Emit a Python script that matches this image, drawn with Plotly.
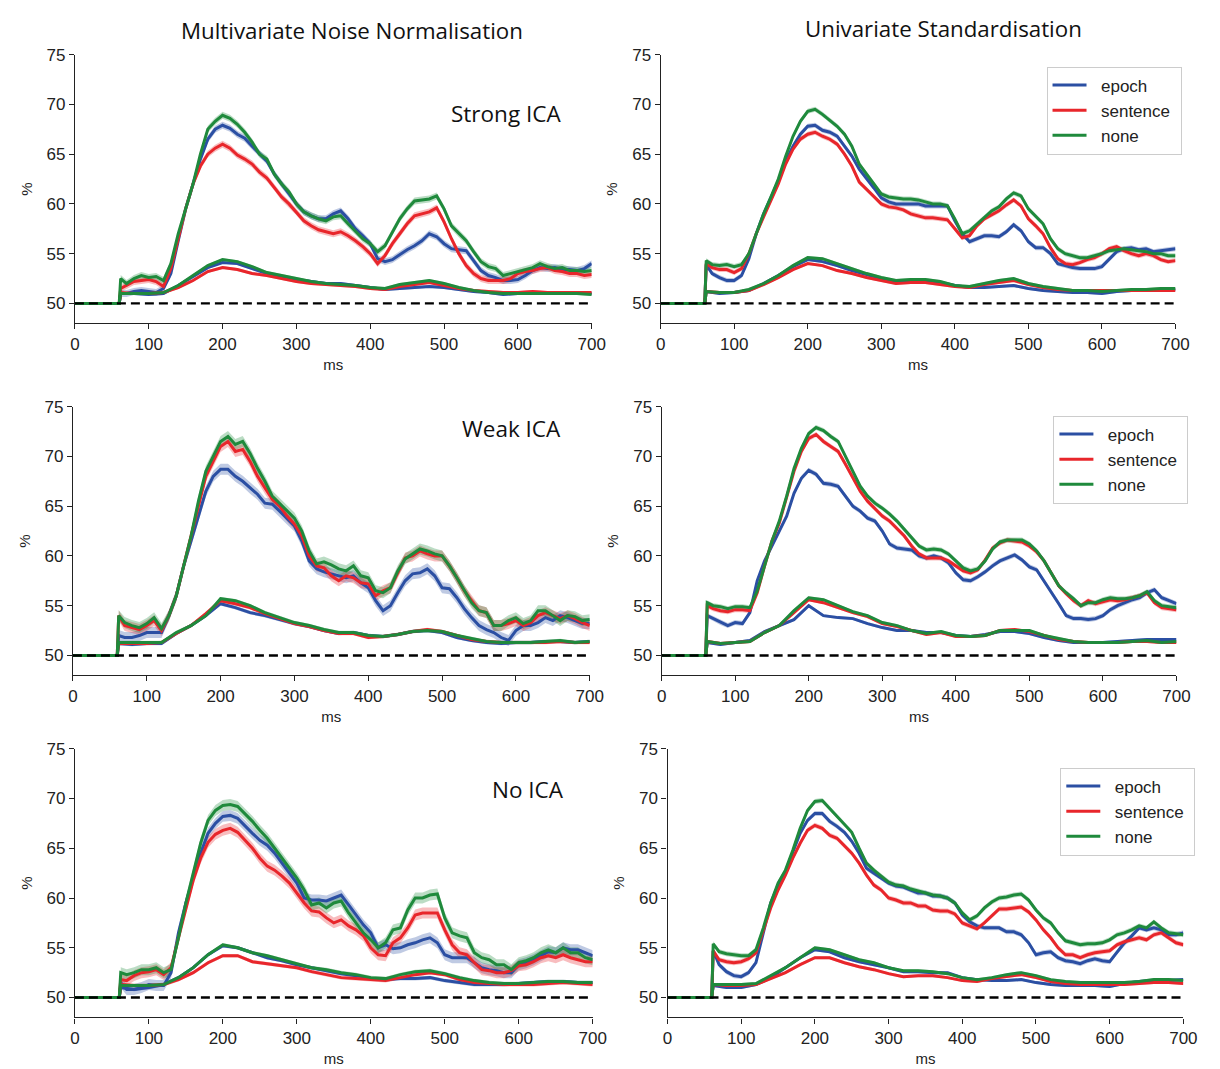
import numpy as np
import plotly.graph_objects as go

# ---------------------------------------------------------------------------
# Decoding accuracy (%) over time for three baseline conditions.
# Pre-stimulus samples sit at chance; the curves start at stimulus onset.
# ---------------------------------------------------------------------------
CHANCE = 50.0
PRESTIM_MS = [0, 60]
T_FINE = [62] + list(range(70, 701, 10))      # upper (peak) curves
T_COARSE = [62] + list(range(80, 701, 20))    # lower (smooth) curves
X_TICKS = [0, 100, 200, 300, 400, 500, 600, 700]
Y_TICKS = [50, 55, 60, 65, 70, 75]

CONDITIONS = ["epoch", "sentence", "none"]
COLUMN_TITLES = ["Multivariate Noise Normalisation", "Univariate Standardisation"]
ROW_LABELS = ["Strong ICA", "Weak ICA", "No ICA"]

# ---- Multivariate noise normalisation, strong ICA -------------------------
MNN_STRONG_EPOCH_HI = [51.0, 51.0, 51.2, 51.3,
    51.2, 51.1, 51.5, 53.0, 56.3, 59.5, 62.0, 64.5, 66.5, 67.5,
    67.9, 67.6, 67.0, 66.6, 65.8, 65.0, 64.3, 63.0, 62.0, 61.0,
    60.0, 59.2, 58.8, 58.5, 58.5, 59.0, 59.3, 58.5, 57.5, 56.8,
    56.0, 54.5, 54.2, 54.4, 54.9, 55.4, 55.8, 56.3, 57.0, 56.7,
    56.0, 55.5, 55.4, 55.3, 54.3, 53.3, 52.8, 52.6, 52.3, 52.3,
    52.4, 52.8, 53.3, 53.6, 53.5, 53.6, 53.4, 53.4, 53.3, 53.5,
    54.0]
MNN_STRONG_SENTENCE_HI = [51.5, 51.8, 52.2, 52.3,
    52.4, 52.2, 51.7, 53.5, 56.5, 59.5, 62.0, 63.8, 65.0, 65.6,
    66.0, 65.6, 64.9, 64.5, 64.0, 63.2, 62.6, 61.7, 60.7, 60.0,
    59.2, 58.3, 57.8, 57.4, 57.2, 57.0, 57.2, 56.8, 56.3, 55.7,
    55.0, 54.0, 54.8, 56.0, 57.0, 58.0, 58.8, 59.0, 59.2, 59.6,
    58.2, 56.5, 55.0, 53.8, 53.0, 52.5, 52.3, 52.3, 52.3, 52.5,
    53.0, 53.2, 53.3, 53.5, 53.6, 53.3, 53.2, 53.0, 53.0, 52.8,
    52.9]
MNN_STRONG_NONE_HI = [52.5, 52.0, 52.5, 52.8,
    52.6, 52.7, 52.3, 54.0, 57.0, 59.5, 62.0, 65.0, 67.5, 68.3,
    68.9, 68.6, 68.0, 67.2, 66.2, 65.0, 64.5, 63.0, 62.0, 61.2,
    60.0, 59.2, 58.8, 58.5, 58.3, 58.7, 58.8, 58.0, 57.2, 56.5,
    56.0, 55.2, 55.8, 57.2, 58.5, 59.5, 60.3, 60.4, 60.5, 60.8,
    59.5, 57.8, 57.0, 56.3, 55.2, 54.2, 53.7, 53.5, 52.8, 53.0,
    53.2, 53.4, 53.6, 54.0, 53.7, 53.5, 53.6, 53.3, 53.3, 53.2,
    53.3]
MNN_STRONG_EPOCH_LO = [51.0, 51.0,
    50.9, 51.0, 51.8, 52.7, 53.6, 54.1, 54.0, 53.5, 53.0, 52.7,
    52.4, 52.2, 52.0, 52.0, 51.8, 51.6, 51.4, 51.5, 51.6, 51.7,
    51.6, 51.4, 51.2, 51.1, 50.9, 51.0, 51.0, 51.0, 51.0, 51.0,
    51.0]
MNN_STRONG_SENTENCE_LO = [51.1, 51.0,
    51.0, 51.1, 51.6, 52.3, 53.2, 53.6, 53.4, 53.0, 52.8, 52.5,
    52.2, 52.0, 51.9, 51.8, 51.7, 51.5, 51.4, 51.7, 51.9, 52.1,
    51.8, 51.5, 51.3, 51.2, 51.1, 51.1, 51.2, 51.1, 51.1, 51.1,
    51.1]
MNN_STRONG_NONE_LO = [51.0, 51.0,
    51.0, 51.1, 51.8, 52.8, 53.8, 54.4, 54.2, 53.7, 53.1, 52.8,
    52.5, 52.2, 52.0, 51.9, 51.8, 51.6, 51.5, 51.9, 52.1, 52.3,
    52.0, 51.6, 51.3, 51.1, 51.0, 51.0, 51.0, 51.0, 51.0, 51.0,
    50.9]

# ---- Univariate standardisation, strong ICA -------------------------------
US_STRONG_EPOCH_HI = [53.9, 53.0, 52.6, 52.3,
    52.3, 52.8, 54.5, 57.0, 59.0, 60.7, 62.3, 64.3, 65.8, 67.0,
    67.8, 67.9, 67.4, 67.2, 66.8, 65.8, 64.8, 63.5, 62.6, 61.6,
    60.6, 60.2, 60.0, 60.0, 60.0, 60.0, 59.8, 59.8, 59.8, 59.8,
    58.3, 57.0, 56.2, 56.5, 56.8, 56.8, 56.7, 57.2, 57.9, 57.3,
    56.2, 55.6, 55.6, 55.0, 54.0, 53.8, 53.6, 53.5, 53.5, 53.5,
    53.7, 54.5, 55.2, 55.5, 55.6, 55.4, 55.5, 55.2, 55.3, 55.4,
    55.5]
US_STRONG_SENTENCE_HI = [54.0, 53.6, 53.4, 53.4,
    53.1, 53.5, 55.0, 57.0, 58.7, 60.3, 62.0, 64.0, 65.5, 66.5,
    67.0, 67.2, 66.8, 66.5, 66.0, 65.0, 63.8, 62.2, 61.5, 60.8,
    60.0, 59.7, 59.6, 59.4, 59.0, 58.8, 58.6, 58.6, 58.5, 58.4,
    57.5, 56.6, 56.8, 57.8, 58.5, 58.9, 59.3, 59.9, 60.4, 59.8,
    58.5, 57.8, 57.0, 55.6, 54.5, 54.0, 53.9, 54.1, 54.4, 54.6,
    55.0, 55.5, 55.7, 55.3, 55.0, 54.8, 55.0, 54.8, 54.4, 54.2,
    54.3]
US_STRONG_NONE_HI = [54.3, 53.9, 53.8, 53.9,
    53.7, 53.9, 55.0, 57.0, 59.0, 60.7, 62.5, 64.8, 66.8, 68.3,
    69.3, 69.5, 69.0, 68.4, 67.8, 67.0, 65.8, 64.0, 63.0, 62.0,
    61.0, 60.7, 60.6, 60.5, 60.5, 60.4, 60.2, 60.0, 60.0, 59.8,
    58.5, 57.0, 57.3, 58.0, 58.7, 59.3, 59.7, 60.5, 61.1, 60.8,
    59.5, 58.8, 58.0, 56.5, 55.5, 55.0, 54.8, 54.6, 54.6, 54.8,
    55.0, 55.3, 55.4, 55.5, 55.4, 55.3, 55.2, 55.0, 55.0, 54.8,
    54.8]
US_STRONG_EPOCH_LO = [51.2, 51.0,
    51.1, 51.3, 52.0, 52.8, 53.7, 54.4, 54.2, 53.8, 53.3, 52.9,
    52.5, 52.2, 52.3, 52.3, 52.1, 51.8, 51.6, 51.6, 51.7, 51.8,
    51.5, 51.3, 51.2, 51.1, 51.1, 51.0, 51.2, 51.3, 51.3, 51.4,
    51.4]
US_STRONG_SENTENCE_LO = [51.2, 51.1,
    51.1, 51.3, 51.9, 52.6, 53.4, 54.0, 53.8, 53.3, 53.0, 52.6,
    52.3, 52.0, 52.1, 52.1, 51.9, 51.7, 51.6, 51.9, 52.1, 52.3,
    51.9, 51.6, 51.4, 51.3, 51.3, 51.3, 51.3, 51.3, 51.3, 51.3,
    51.3]
US_STRONG_NONE_LO = [51.2, 51.1,
    51.1, 51.4, 52.0, 52.8, 53.8, 54.6, 54.5, 54.0, 53.5, 53.0,
    52.6, 52.3, 52.4, 52.4, 52.2, 51.8, 51.7, 52.0, 52.3, 52.5,
    52.0, 51.7, 51.5, 51.3, 51.3, 51.2, 51.3, 51.4, 51.4, 51.5,
    51.5]

# ---- Multivariate noise normalisation, weak ICA ---------------------------
MNN_WEAK_EPOCH_HI = [52.0, 51.8, 51.8, 52.0,
    52.3, 52.3, 52.3, 54.0, 56.0, 59.0, 61.5, 64.0, 66.5, 68.0,
    68.7, 68.7, 68.0, 67.5, 66.8, 66.2, 65.3, 65.2, 64.5, 63.7,
    63.0, 61.5, 59.5, 58.7, 58.4, 58.2, 58.0, 57.8, 58.0, 57.3,
    56.8, 55.5, 54.5, 55.0, 56.3, 57.5, 58.2, 58.3, 58.7, 58.0,
    56.8, 56.7, 55.8, 54.7, 53.8, 53.0, 52.6, 52.3, 51.8, 51.5,
    52.5, 53.0, 53.0, 53.3, 53.8, 53.5, 54.0, 53.8, 53.5, 53.2,
    53.2]
MNN_WEAK_SENTENCE_HI = [54.0, 53.0, 52.8, 52.6,
    53.0, 53.5, 52.5, 54.0, 56.0, 59.0, 62.0, 65.3, 68.0, 69.5,
    71.0, 71.5, 70.5, 70.7, 69.5, 68.0, 66.8, 65.7, 65.0, 64.0,
    63.2, 62.0, 60.0, 59.0, 58.8, 58.0, 57.5, 58.0, 57.8, 57.3,
    57.2, 56.0, 56.5, 56.8, 58.3, 59.8, 60.0, 60.5, 60.2, 60.0,
    60.0, 59.0, 57.8, 56.5, 55.5, 54.5, 54.3, 53.0, 53.0, 53.2,
    53.5, 53.0, 53.3, 54.0, 54.3, 54.0, 53.7, 54.0, 53.7, 53.3,
    53.0]
MNN_WEAK_NONE_HI = [54.0, 53.3, 53.0, 52.8,
    53.2, 53.8, 52.7, 54.0, 56.0, 59.0, 62.0, 65.5, 68.5, 70.0,
    71.5, 72.0, 71.2, 71.5, 70.3, 68.8, 67.5, 66.0, 65.3, 64.5,
    63.8, 62.5, 60.5, 59.2, 59.4, 59.1, 58.7, 58.5, 59.0, 58.0,
    57.8, 56.5, 56.3, 56.8, 58.5, 59.7, 60.2, 60.7, 60.5, 60.2,
    60.0, 59.0, 57.8, 56.5, 55.3, 54.5, 54.3, 53.0, 53.0, 53.5,
    53.8, 53.2, 53.5, 54.5, 54.5, 54.0, 53.5, 54.0, 53.9, 53.5,
    53.6]
MNN_WEAK_EPOCH_LO = [51.2, 51.1,
    51.2, 51.2, 52.2, 53.0, 54.0, 55.2, 54.8, 54.3, 54.0, 53.6,
    53.2, 52.9, 52.5, 52.2, 52.3, 52.0, 51.9, 52.1, 52.4, 52.5,
    52.3, 51.8, 51.5, 51.3, 51.2, 51.3, 51.3, 51.4, 51.4, 51.3,
    51.4]
MNN_WEAK_SENTENCE_LO = [51.2, 51.2,
    51.2, 51.3, 52.2, 53.0, 54.2, 55.5, 55.2, 54.8, 54.2, 53.7,
    53.2, 52.9, 52.5, 52.2, 52.2, 51.8, 51.9, 52.1, 52.4, 52.6,
    52.4, 52.0, 51.6, 51.4, 51.3, 51.3, 51.3, 51.3, 51.4, 51.3,
    51.3]
MNN_WEAK_NONE_LO = [51.3, 51.3,
    51.3, 51.3, 52.3, 53.0, 54.0, 55.7, 55.5, 55.0, 54.3, 53.8,
    53.3, 53.0, 52.6, 52.3, 52.3, 52.0, 51.9, 52.1, 52.4, 52.5,
    52.4, 52.0, 51.7, 51.4, 51.3, 51.3, 51.3, 51.4, 51.5, 51.3,
    51.4]

# ---- Univariate standardisation, weak ICA ---------------------------------
US_WEAK_EPOCH_HI = [54.0, 53.7, 53.3, 53.0,
    53.3, 53.2, 54.3, 57.5, 59.5, 61.0, 62.5, 64.0, 66.3, 67.8,
    68.6, 68.2, 67.3, 67.2, 67.0, 66.0, 65.0, 64.5, 63.8, 63.5,
    62.5, 61.2, 60.8, 60.7, 60.6, 60.0, 59.8, 60.0, 59.8, 59.3,
    58.3, 57.6, 57.5, 57.9, 58.4, 59.0, 59.5, 59.8, 60.1, 59.6,
    58.9, 58.6, 57.5, 56.4, 55.2, 54.0, 53.7, 53.7, 53.6, 53.7,
    54.0, 54.6, 55.0, 55.3, 55.6, 55.8, 56.3, 56.6, 55.8, 55.5,
    55.2]
US_WEAK_SENTENCE_HI = [55.0, 54.7, 54.5, 54.4,
    54.6, 54.6, 54.5, 56.3, 59.0, 61.5, 63.3, 65.8, 68.5, 70.5,
    71.8, 72.2, 71.5, 71.0, 70.5, 69.2, 67.8, 66.5, 65.5, 64.8,
    64.0, 63.5, 62.8, 62.0, 61.0, 60.2, 59.8, 59.8, 59.8, 59.5,
    59.0, 58.5, 58.3, 58.6, 59.6, 60.8, 61.3, 61.6, 61.5, 61.4,
    61.0, 60.4, 59.5, 58.3, 57.0, 56.2, 55.5, 55.0, 55.5, 55.2,
    55.4, 55.6, 55.5, 55.6, 55.8, 56.0, 56.3, 55.3, 54.8, 54.7,
    54.6]
US_WEAK_NONE_HI = [55.3, 55.0, 54.9, 54.7,
    54.9, 54.9, 54.8, 56.5, 59.0, 61.5, 63.5, 66.0, 68.8, 70.8,
    72.3, 72.9, 72.6, 72.0, 71.5, 70.0, 68.5, 67.0, 66.0, 65.3,
    64.8, 64.2, 63.5, 62.7, 61.8, 61.0, 60.6, 60.7, 60.6, 60.2,
    59.5, 58.8, 58.5, 58.7, 59.5, 60.7, 61.4, 61.6, 61.6, 61.6,
    61.2, 60.5, 59.5, 58.3, 57.0, 56.3, 55.7, 55.0, 55.3, 55.3,
    55.6, 55.8, 55.7, 55.7, 55.8, 56.0, 56.4, 55.5, 55.0, 54.9,
    54.8]
US_WEAK_EPOCH_LO = [51.3, 51.1,
    51.3, 51.5, 52.4, 53.0, 53.6, 55.0, 54.0, 53.8, 53.7, 53.2,
    52.8, 52.5, 52.5, 52.3, 52.3, 52.0, 51.9, 52.1, 52.4, 52.4,
    52.2, 51.8, 51.5, 51.3, 51.3, 51.3, 51.4, 51.5, 51.6, 51.6,
    51.6]
US_WEAK_SENTENCE_LO = [51.4, 51.2,
    51.3, 51.4, 52.3, 53.0, 54.3, 55.6, 55.3, 54.8, 54.3, 53.9,
    53.2, 52.9, 52.5, 52.1, 52.3, 51.9, 51.9, 52.0, 52.5, 52.6,
    52.4, 52.0, 51.6, 51.4, 51.3, 51.3, 51.3, 51.4, 51.4, 51.3,
    51.3]
US_WEAK_NONE_LO = [51.4, 51.2,
    51.3, 51.4, 52.3, 53.0, 54.5, 55.8, 55.6, 55.0, 54.4, 54.0,
    53.3, 53.0, 52.5, 52.2, 52.4, 52.0, 51.9, 52.0, 52.5, 52.5,
    52.5, 52.0, 51.7, 51.4, 51.3, 51.3, 51.3, 51.4, 51.5, 51.3,
    51.4]

# ---- Multivariate noise normalisation, no ICA -----------------------------
MNN_NO_EPOCH_HI = [51.5, 50.8, 50.8, 51.0,
    51.3, 51.2, 51.2, 52.5, 56.5, 59.5, 62.0, 64.5, 66.5, 67.5,
    68.2, 68.3, 68.0, 67.2, 66.5, 65.8, 65.3, 64.5, 63.5, 62.5,
    61.5, 60.0, 59.8, 59.8, 59.7, 60.0, 60.3, 59.3, 58.3, 57.3,
    56.5, 55.0, 55.3, 54.9, 55.0, 55.3, 55.5, 55.8, 56.0, 55.5,
    54.3, 54.0, 54.0, 54.0, 53.5, 53.0, 52.8, 52.7, 52.5, 52.5,
    53.3, 53.5, 53.8, 54.2, 54.6, 54.5, 55.0, 54.8, 54.8, 54.5,
    54.2]
MNN_NO_SENTENCE_HI = [51.8, 51.7, 52.2, 52.5,
    52.6, 52.8, 52.3, 53.0, 56.0, 59.0, 61.8, 64.0, 65.6, 66.4,
    66.8, 67.0, 66.6, 65.8, 65.0, 64.0, 63.2, 62.8, 62.2, 61.5,
    60.5, 59.5, 58.7, 58.6, 58.0, 57.5, 57.8, 57.2, 56.8, 56.2,
    55.0, 54.3, 54.2, 55.5, 56.0, 57.0, 58.3, 58.5, 58.5, 58.5,
    56.8, 55.3, 54.5, 54.3, 53.5, 52.8, 52.7, 52.5, 52.5, 52.7,
    53.2, 53.3, 53.6, 54.0, 54.2, 54.0, 54.3, 54.0, 53.8, 53.6,
    53.6]
MNN_NO_NONE_HI = [52.5, 52.3, 52.5, 52.8,
    52.8, 53.0, 52.5, 52.8, 56.0, 59.5, 62.5, 65.5, 67.8, 68.8,
    69.3, 69.4, 69.2, 68.5, 67.7, 66.8, 66.0, 65.0, 64.0, 63.0,
    62.0, 60.8, 59.3, 59.5, 59.0, 59.5, 59.7, 58.5, 57.5, 56.5,
    55.8, 55.0, 55.5, 56.8, 57.0, 58.8, 60.0, 60.0, 60.3, 60.4,
    58.0, 56.5, 56.2, 56.0, 54.5, 54.0, 53.8, 53.3, 53.3, 52.8,
    53.5, 53.7, 54.0, 54.5, 54.8, 54.5, 55.0, 54.5, 54.5, 54.0,
    53.8]
MNN_NO_EPOCH_LO = [51.0, 50.8,
    51.0, 51.3, 52.0, 53.0, 54.3, 55.2, 55.0, 54.5, 54.0, 53.7,
    53.3, 53.0, 52.7, 52.4, 52.2, 51.9, 51.8, 51.9, 51.9, 52.0,
    51.7, 51.5, 51.3, 51.3, 51.3, 51.4, 51.5, 51.6, 51.6, 51.5,
    51.5]
MNN_NO_SENTENCE_LO = [51.3, 51.2,
    51.2, 51.3, 51.8, 52.5, 53.5, 54.2, 54.2, 53.6, 53.4, 53.2,
    53.0, 52.6, 52.3, 52.0, 51.9, 51.8, 51.7, 52.0, 52.3, 52.5,
    52.3, 51.8, 51.5, 51.4, 51.3, 51.3, 51.3, 51.4, 51.5, 51.4,
    51.3]
MNN_NO_NONE_LO = [51.2, 51.2,
    51.2, 51.3, 52.0, 53.0, 54.3, 55.3, 55.0, 54.5, 54.2, 53.8,
    53.4, 53.0, 52.8, 52.5, 52.3, 52.0, 51.9, 52.3, 52.6, 52.7,
    52.4, 52.0, 51.7, 51.5, 51.4, 51.4, 51.5, 51.6, 51.6, 51.5,
    51.5]

# ---- Univariate standardisation, no ICA -----------------------------------
US_NO_EPOCH_HI = [54.7, 53.3, 52.6, 52.2,
    52.1, 52.5, 53.5, 56.5, 59.5, 61.3, 62.6, 64.6, 66.5, 67.8,
    68.5, 68.5, 67.7, 67.2, 66.6, 65.7, 64.5, 63.0, 62.5, 62.0,
    61.5, 61.2, 61.1, 60.8, 60.5, 60.5, 60.2, 60.2, 60.0, 59.5,
    58.3, 57.6, 57.2, 57.0, 57.0, 57.0, 56.6, 56.6, 56.3, 55.5,
    54.3, 54.5, 54.6, 54.0, 53.7, 53.6, 53.4, 53.7, 53.9, 53.7,
    53.6, 54.6, 55.5, 56.2, 57.0, 56.8, 57.0, 56.8, 56.3, 56.3,
    56.5]
US_NO_SENTENCE_HI = [54.7, 53.8, 53.6, 53.5,
    53.6, 53.9, 54.5, 56.8, 59.0, 60.8, 62.3, 64.0, 65.5, 66.8,
    67.3, 67.0, 66.3, 66.0, 65.3, 64.5, 63.5, 62.3, 61.3, 60.8,
    60.0, 59.8, 59.5, 59.5, 59.2, 59.2, 58.8, 58.7, 58.7, 58.4,
    57.5, 57.2, 56.9, 57.5, 58.2, 58.9, 58.9, 59.0, 59.1, 58.6,
    57.8, 56.8, 56.0, 55.0, 54.3, 54.3, 54.0, 54.3, 54.5, 54.6,
    54.7, 55.3, 55.6, 55.8, 56.0, 55.8, 56.3, 56.5, 56.0, 55.5,
    55.3]
US_NO_NONE_HI = [55.4, 54.6, 54.4, 54.3,
    54.2, 54.2, 54.8, 57.0, 59.5, 61.5, 62.8, 64.8, 67.0, 68.8,
    69.7, 69.8, 69.0, 68.3, 67.5, 66.6, 65.0, 63.5, 62.8, 62.2,
    61.6, 61.3, 61.2, 60.9, 60.7, 60.5, 60.3, 60.2, 60.0, 59.5,
    58.5, 57.8, 58.2, 59.0, 59.6, 60.0, 60.1, 60.3, 60.4, 59.8,
    58.8, 58.0, 57.5, 56.5, 55.7, 55.5, 55.3, 55.4, 55.4, 55.5,
    55.8, 56.3, 56.5, 56.8, 57.2, 57.0, 57.6, 57.0, 56.5, 56.4,
    56.3]
US_NO_EPOCH_LO = [51.2, 51.0,
    51.0, 51.3, 52.0, 53.0, 54.0, 54.8, 54.6, 54.0, 53.6, 53.3,
    53.0, 52.6, 52.6, 52.5, 52.5, 52.0, 51.8, 51.7, 51.7, 51.8,
    51.5, 51.3, 51.2, 51.2, 51.2, 51.1, 51.4, 51.6, 51.7, 51.7,
    51.8]
US_NO_SENTENCE_LO = [51.3, 51.2,
    51.2, 51.3, 51.9, 52.5, 53.3, 54.0, 54.0, 53.5, 53.1, 52.8,
    52.4, 52.1, 52.2, 52.2, 52.0, 51.7, 51.6, 51.9, 52.1, 52.3,
    52.0, 51.6, 51.4, 51.3, 51.3, 51.3, 51.3, 51.4, 51.5, 51.5,
    51.4]
US_NO_NONE_LO = [51.3, 51.3,
    51.3, 51.4, 52.2, 53.0, 54.0, 55.0, 54.8, 54.3, 53.8, 53.5,
    53.0, 52.7, 52.7, 52.6, 52.4, 52.0, 51.8, 52.0, 52.3, 52.5,
    52.2, 51.8, 51.6, 51.5, 51.5, 51.5, 51.5, 51.6, 51.8, 51.8,
    51.7]

# Standard error half-widths of the shaded bands, per panel (upper, lower)
SEM = {
    "mnn_strong": (0.35, 0.15), "us_strong": (0.25, 0.15),
    "mnn_weak": (0.55, 0.18), "us_weak": (0.25, 0.15),
    "mnn_no": (0.55, 0.18), "us_no": (0.25, 0.15),
}

CURVES = {
    "mnn_strong": {"epoch": (MNN_STRONG_EPOCH_HI, MNN_STRONG_EPOCH_LO),
                   "sentence": (MNN_STRONG_SENTENCE_HI, MNN_STRONG_SENTENCE_LO),
                   "none": (MNN_STRONG_NONE_HI, MNN_STRONG_NONE_LO)},
    "us_strong": {"epoch": (US_STRONG_EPOCH_HI, US_STRONG_EPOCH_LO),
                  "sentence": (US_STRONG_SENTENCE_HI, US_STRONG_SENTENCE_LO),
                  "none": (US_STRONG_NONE_HI, US_STRONG_NONE_LO)},
    "mnn_weak": {"epoch": (MNN_WEAK_EPOCH_HI, MNN_WEAK_EPOCH_LO),
                 "sentence": (MNN_WEAK_SENTENCE_HI, MNN_WEAK_SENTENCE_LO),
                 "none": (MNN_WEAK_NONE_HI, MNN_WEAK_NONE_LO)},
    "us_weak": {"epoch": (US_WEAK_EPOCH_HI, US_WEAK_EPOCH_LO),
                "sentence": (US_WEAK_SENTENCE_HI, US_WEAK_SENTENCE_LO),
                "none": (US_WEAK_NONE_HI, US_WEAK_NONE_LO)},
    "mnn_no": {"epoch": (MNN_NO_EPOCH_HI, MNN_NO_EPOCH_LO),
               "sentence": (MNN_NO_SENTENCE_HI, MNN_NO_SENTENCE_LO),
               "none": (MNN_NO_NONE_HI, MNN_NO_NONE_LO)},
    "us_no": {"epoch": (US_NO_EPOCH_HI, US_NO_EPOCH_LO),
              "sentence": (US_NO_SENTENCE_HI, US_NO_SENTENCE_LO),
              "none": (US_NO_NONE_HI, US_NO_NONE_LO)},
}

# ---------------------------------------------------------------------------
# Styling and layout
# ---------------------------------------------------------------------------
COLORS = {"epoch": "#2b4fa3", "sentence": "#e8262b", "none": "#1f8a3c"}
BAND_RGBA = {"epoch": "rgba(43,79,163,0.30)", "sentence": "rgba(232,38,43,0.30)",
             "none": "rgba(31,138,60,0.30)"}
AX_COLOR = "#222222"
TICK_FONT = dict(family="Liberation Sans, Arial, sans-serif", size=17, color="#222222")
LABEL_FONT = dict(family="Open Sans, sans-serif", size=22, color="#111111")
NBSP = "\u00a0"

W, H = 1220, 1069

def fx(px):
    return px / W

def fy(py):
    return (H - py) / H

# (panel key, x-pixel span of axis, y-pixel span (top, bottom), legend name or None)
PANEL_LAYOUT = [
    ("mnn_strong", (71, 596), (46, 317), None),
    ("us_strong", (666, 1189), (46, 317), "legend"),
    ("mnn_weak", (69, 594), (401, 672), None),
    ("us_weak", (667, 1190), (401, 672), "legend2"),
    ("mnn_no", (71, 597), (746, 1017), None),
    ("us_no", (673, 1197), (746, 1017), "legend3"),
]
LEGEND_POS = {"legend": (1058, 58), "legend2": (1065, 410), "legend3": (1072, 765)}

fig = go.Figure()
layout = {}

for i, (key, (x0, x1), (y0, y1), leg) in enumerate(PANEL_LAYOUT):
    n = "" if i == 0 else str(i + 1)
    xa, ya = "x" + n, "y" + n
    sem_hi, sem_lo = SEM[key]

    # shaded bands first
    for cond in CONDITIONS:
        hi, lo = CURVES[key][cond]
        for vals, t, s in ((hi, T_FINE, sem_hi), (lo, T_COARSE, sem_lo)):
            v = np.asarray(vals)
            tt = np.asarray(t)
            fig.add_trace(go.Scatter(
                x=np.concatenate([tt, tt[::-1]]),
                y=np.concatenate([v + s, (v - s)[::-1]]),
                fill="toself", fillcolor=BAND_RGBA[cond],
                line=dict(width=0), mode="lines", hoverinfo="skip",
                showlegend=False, xaxis=xa, yaxis=ya))

    # mean curves, chance level before onset
    for cond in CONDITIONS:
        hi, lo = CURVES[key][cond]
        for j, (vals, t) in enumerate(((hi, T_FINE), (lo, T_COARSE))):
            fig.add_trace(go.Scatter(
                x=PRESTIM_MS + list(t),
                y=[CHANCE] * len(PRESTIM_MS) + list(vals),
                mode="lines", line=dict(color=COLORS[cond], width=3),
                name=NBSP * 2 + cond + NBSP, legendgroup=key + cond,
                showlegend=(leg is not None and j == 0),
                legend=leg if leg else "legend",
                xaxis=xa, yaxis=ya))

    # chance level
    fig.add_trace(go.Scatter(
        x=[X_TICKS[0], X_TICKS[-1]], y=[CHANCE, CHANCE], mode="lines",
        line=dict(color="black", width=2.4, dash="9px,5px"),
        hoverinfo="skip", showlegend=False, xaxis=xa, yaxis=ya))

    layout["xaxis" + n] = dict(
        domain=[fx(x0), fx(x1)], anchor=ya, range=[0, 700],
        tickvals=X_TICKS, ticks="outside", ticklen=5, tickwidth=1.2,
        tickcolor=AX_COLOR, showline=True, linecolor=AX_COLOR, linewidth=1.2,
        showgrid=False, zeroline=False, tickfont=TICK_FONT,
        title=dict(text="ms", font=dict(TICK_FONT, size=15), standoff=6))
    layout["yaxis" + n] = dict(
        domain=[fy(y1), fy(y0)], anchor=xa, range=[48, 75],
        tickvals=Y_TICKS, ticks="outside", ticklen=5, tickwidth=1.2,
        tickcolor=AX_COLOR, showline=True, linecolor=AX_COLOR, linewidth=1.2,
        showgrid=False, zeroline=False, tickfont=TICK_FONT,
        title=dict(text="%", font=dict(TICK_FONT, size=15), standoff=10))

for name, (lx, ly) in LEGEND_POS.items():
    layout[name] = dict(
        x=fx(lx), y=fy(ly), xanchor="left", yanchor="top",
        bgcolor="white", bordercolor="#cccccc", borderwidth=1,
        font=dict(TICK_FONT, size=17), traceorder="normal",
        tracegroupgap=3, itemwidth=34)

def label(text, px, py, size):
    return dict(text=text, x=fx(px), y=fy(py), xref="paper", yref="paper",
                xanchor="center", yanchor="middle", showarrow=False,
                font=dict(LABEL_FONT, size=size))

annotations = [
    label(COLUMN_TITLES[0], 352, 22, 22.3),
    label(COLUMN_TITLES[1], 953, 20, 22.3),
    label(ROW_LABELS[0], 509, 105, 22.5),
    label(ROW_LABELS[1], 515, 423, 22.5),
    label(ROW_LABELS[2], 531, 787, 22.5),
]

fig.update_layout(
    width=W, height=H, margin=dict(l=0, r=0, t=0, b=0),
    paper_bgcolor="white", plot_bgcolor="white",
    annotations=annotations, **layout)

fig.write_html("out.html")
